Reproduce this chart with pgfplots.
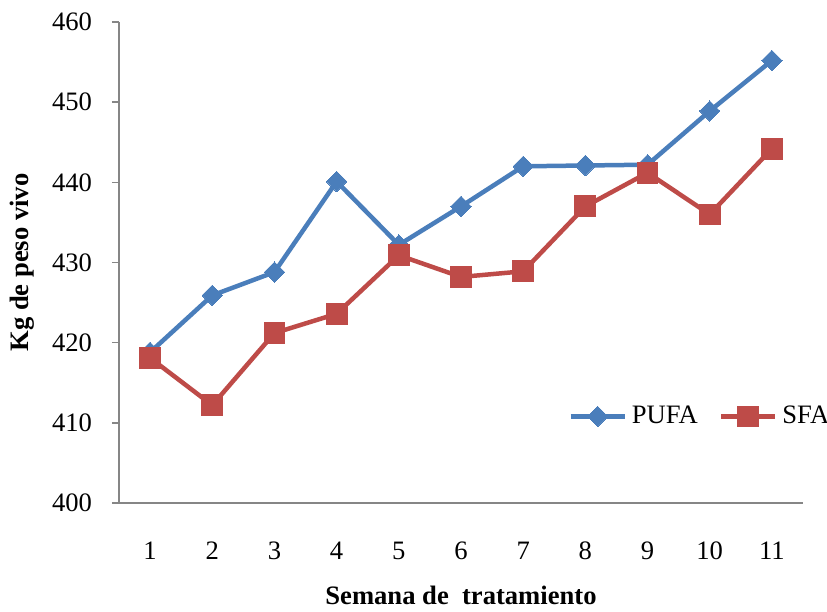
\documentclass[border=0pt]{standalone}
\usepackage{fontspec}
\setmainfont{Liberation Serif}
\usepackage{pgfplots}
\pgfplotsset{compat=1.18}
\definecolor{pufa}{RGB}{74,126,187}
\definecolor{sfa}{RGB}{190,75,72}
\definecolor{axgray}{RGB}{134,134,134}
\newcommand{\chartfont}{\fontsize{13.3}{16}\selectfont}
\begin{document}
\begin{tikzpicture}
\begin{axis}[
  name=ax,
  width=342pt, height=240.5pt, scale only axis,
  xmin=0.5, xmax=11.5, ymin=400, ymax=460,
  xtick={1,...,11}, ytick={400,410,...,460},
  axis x line=bottom, axis y line=left,
  axis line style={draw=axgray, line width=0.75pt, -},
  x axis line style={-}, y axis line style={-},
  tick align=outside,
  major tick length=3.5pt,
  ytick style={draw=axgray, line width=0.75pt},
  xtick style={draw=none},
  font=\chartfont,
  /pgf/number format/assume math mode=true,
  yticklabel style={anchor=east, xshift=-6.5pt, font=\chartfont},
  xticklabel style={anchor=center, yshift=-20.5pt, font=\chartfont},
  xlabel={\bfseries Semana de\ \ tratamiento},
  ylabel={\bfseries Kg de peso vivo},
  every axis x label/.style={at={(axis description cs:0.5,-0.193)}, anchor=center, font=\chartfont},
  every axis y label/.style={at={(axis description cs:-0.1418,0.5)}, anchor=center, rotate=90, font=\chartfont},
  legend style={draw=none, fill=none, at={(axis description cs:0.6564,0.18)}, anchor=west, legend columns=2, inner sep=0pt, font=\chartfont, nodes={inner sep=2.5pt}, /tikz/every even column/.append style={column sep=8pt}},
  legend image code/.code={\draw[mark repeat=2, mark phase=2] plot coordinates {(0pt,0pt) (13.5pt,0pt) (27pt,0pt)};},
  clip=false,
]
\addplot[color=pufa, line width=2.25pt, mark=square*, mark size=3.6pt, mark options={rotate=45, line width=0pt, fill=pufa}] coordinates {
(1,418.8) (2,425.9) (3,428.8) (4,440.1) (5,432.2) (6,437.0) (7,442.0) (8,442.1) (9,442.2) (10,448.9) (11,455.2)};
\addlegendentry{PUFA}
\addplot[color=sfa, line width=2.25pt, mark=square*, mark size=5.2pt, mark options={line width=0pt, fill=sfa}] coordinates {
(1,418.1) (2,412.2) (3,421.2) (4,423.6) (5,430.9) (6,428.2) (7,428.9) (8,437.0) (9,441.2) (10,436.0) (11,444.2)};
\addlegendentry{SFA}
\end{axis}
\pgfresetboundingbox
\path (ax.south west) ++(-59.5pt,-54pt) coordinate (bl);
\path (ax.north east) ++(12pt,11pt) coordinate (tr);
\path[use as bounding box] (bl) rectangle (tr);
\end{tikzpicture}
\end{document}
